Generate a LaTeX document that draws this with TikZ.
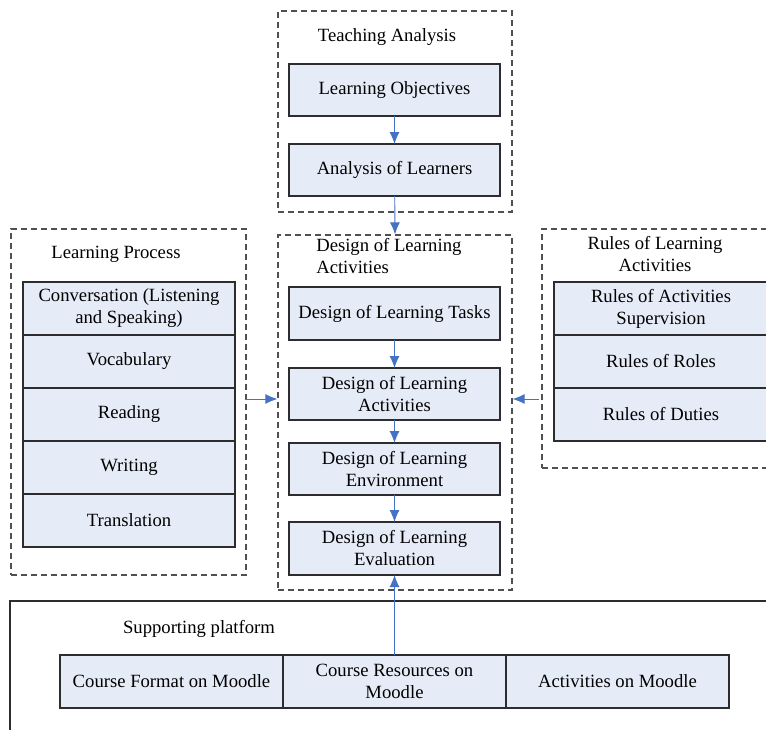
\documentclass[tikz,border=0pt]{standalone}
\usepackage{fontspec}
\setmainfont{Liberation Serif}
\usepackage{tikz}
\usetikzlibrary{arrows.meta,positioning}
\definecolor{boxfill}{RGB}{230,236,247}
\definecolor{boxline}{RGB}{45,45,45}
\definecolor{dashline}{RGB}{80,80,80}
\definecolor{flowblue}{RGB}{68,114,196}
\tikzset{every node/.append style={font=\fontsize{14}{16.5}\selectfont}}

\begin{document}
\begin{tikzpicture}[x=0.75pt,y=-0.75pt,
  box/.style={draw=boxline,fill=boxfill,line width=0.8pt,align=center,
    inner sep=0pt,outer sep=0pt,minimum width=158.25pt,minimum height=39pt},
  rowbox/.style={box,minimum width=159pt,minimum height=39.75pt},
  platbox/.style={box,minimum width=167.25pt,minimum height=39.75pt},
  groupbox/.style={draw=dashline,line width=0.9pt,dash pattern=on 4.5pt off 3pt,inner sep=0pt},
  flow/.style={draw=flowblue,line width=0.7pt,-{Latex[length=9pt,width=7.5pt]}},
  node distance=0pt]
  \clip (0,0) rectangle (766,729);

  % teaching analysis
  \node[groupbox,minimum width=175.5pt,minimum height=150.75pt] (ta) at (395,111.5) {};
  \node (taTitle) at (387,37) {Teaching Analysis};
  \node[box] (obj) at (394.5,90) {Learning Objectives};
  \node[box] (lrn) at (394.5,170) {Analysis of Learners};

  % design of learning activities
  \node[groupbox,minimum width=175.5pt,minimum height=266.25pt] (dla) at (395,412.5) {};
  \node[align=left,anchor=north west,inner sep=0pt] (dlaTitle) at (316,238)
    {Design of Learning\\Activities};
  \node[box,minimum height=39.75pt] (tasks) at (394.5,313.5) {Design of Learning Tasks};
  \node[box] (acts) at (394.5,394) {Design of Learning\\Activities};
  \node[box] (env) at (394.5,469) {Design of Learning\\Environment};
  \node[box,minimum height=39.75pt] (eval) at (394.5,548.5) {Design of Learning\\Evaluation};

  % learning process
  \node[groupbox,minimum width=176.25pt,minimum height=259.5pt] (lp) at (128.5,402) {};
  \node (lpTitle) at (116,254) {Learning Process};
  \node[rowbox] (conv) at (129,308.5) {Conversation (Listening\\and Speaking)};
  \node[rowbox,below=of conv] (voc) {Vocabulary};
  \node[rowbox,below=of voc] (read) {Reading};
  \node[rowbox,below=of read] (writ) {Writing};
  \node[rowbox,below=of writ] (trans) {Translation};

  % rules of learning activities
  \node[groupbox,minimum width=171pt,minimum height=179.25pt] (rla) at (656,348.5) {};
  \node[align=center] (rlaTitle) at (655,254) {Rules of Learning\\Activities};
  \node[rowbox,minimum width=160.5pt] (sup) at (661,308.5) {Rules of Activities\\Supervision};
  \node[rowbox,minimum width=160.5pt,below=of sup] (roles) {Rules of Roles};
  \node[rowbox,minimum width=160.5pt,below=of roles] (duties) {Rules of Duties};

  % supporting platform
  \draw[boxline,line width=0.9pt] (10,735) -- (10,601) -- (772,601);
  \node (spTitle) at (199,629) {Supporting platform};
  \node[platbox] (fmt) at (171.5,681.5) {Course Format on Moodle};
  \node[platbox,right=of fmt] (res) {Course Resources on\\Moodle};
  \node[platbox,right=of res] (actm) {Activities on Moodle};

  \coordinate (mid) at (395,399);
  \draw[flow] (obj) -- (lrn);
  \draw[flow] (lrn) -- (dla.north);
  \draw[flow] (tasks) -- (acts);
  \draw[flow] (acts) -- (env);
  \draw[flow] (env) -- (eval);
  \draw[flow] (res.north) -- (eval.south);
  \draw[flow] ([xshift=-1.5pt]lp.east |- mid) -- (dla.west |- mid);
  \draw[flow] ([xshift=-1.5pt]rla.west |- mid) -- (dla.east |- mid);
\end{tikzpicture}
\end{document}
